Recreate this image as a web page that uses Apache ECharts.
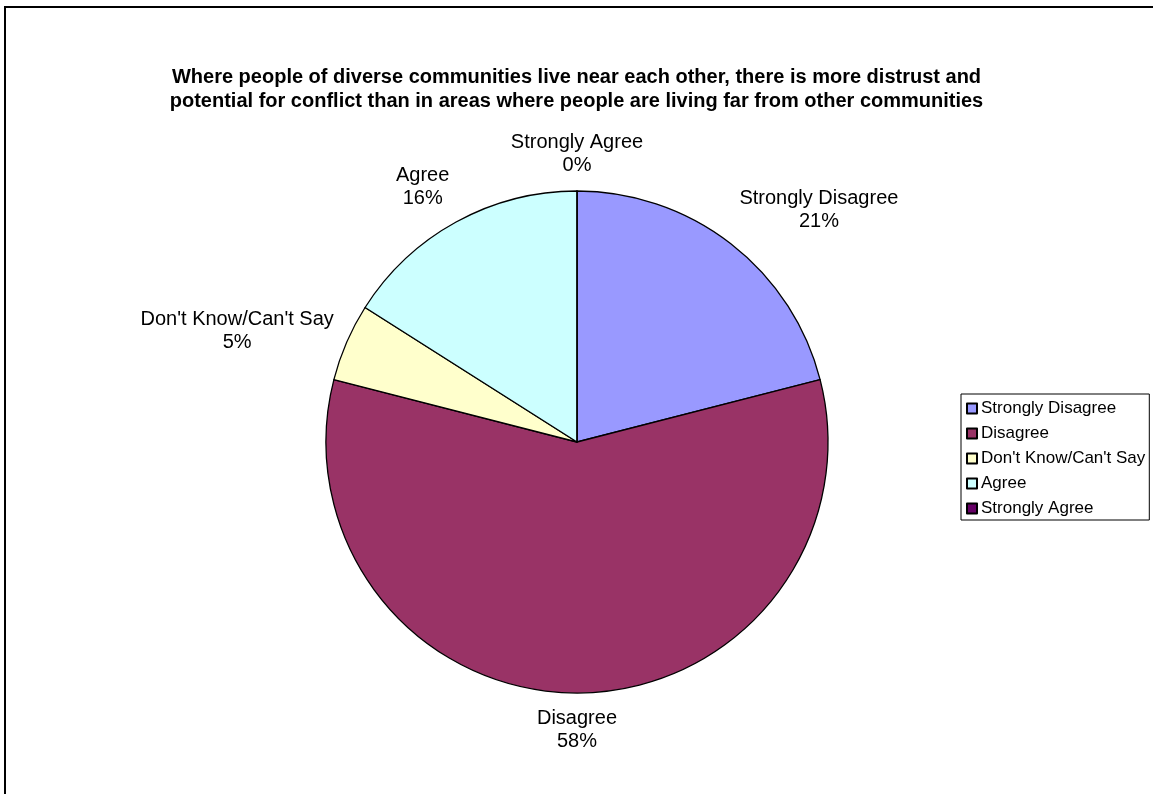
<!DOCTYPE html>
<html>
<head>
<meta charset="utf-8">
<title>Diverse communities survey</title>
<script src="https://cdn.jsdelivr.net/npm/echarts@6/dist/echarts.min.js"></script>
<style>
  html, body { margin: 0; padding: 0; background: #ffffff; }
  #chart { width: 1153px; height: 794px; }
</style>
</head>
<body>
<div id="chart"></div>
<script>
// Survey responses (percent of respondents)
const categories = ['Strongly Disagree', 'Disagree', "Don't Know/Can't Say", 'Agree', 'Strongly Agree'];
const shares = [21, 58, 5, 16, 0];
const sliceColors = ['#9999FF', '#993366', '#FFFFCC', '#CCFFFF', '#660066'];
const titleLines = [
  'Where people of diverse communities live near each other, there is more distrust and',
  'potential for conflict than in areas where people are living far from other communities'
];

const FONT = "'Liberation Sans', Arial, sans-serif";
const PIE_CENTER = [577, 442];
const PIE_RADIUS = 251;
const LABEL_GAP = 14;

const total = shares.reduce((a, b) => a + b, 0);

// mid angle of each slice, measured clockwise from 12 o'clock
function midAngle(idx) {
  let before = 0;
  for (let i = 0; i < idx; i++) before += shares[i];
  return ((before + shares[idx] / 2) / total) * Math.PI * 2;
}

function clamp(v) { return Math.max(-1, Math.min(1, v)); }

const chart = echarts.init(document.getElementById('chart'), null, { renderer: 'canvas' });

chart.setOption({
  backgroundColor: '#ffffff',
  animation: false,
  title: {
    text: titleLines.join('\n'),
    left: 'center',
    top: 60,
    textStyle: {
      fontFamily: FONT,
      fontSize: 20,
      fontWeight: 'bold',
      color: '#000000',
      lineHeight: 24
    }
  },
  legend: {
    orient: 'vertical',
    left: 961,
    top: 394,
    data: categories,
    icon: 'rect',
    itemWidth: 10,
    itemHeight: 10,
    itemGap: 8,
    padding: [6, 4, 3, 5],
    borderColor: '#000000',
    borderWidth: 1,
    borderRadius: 0,
    selectedMode: false,
    textStyle: {
      fontFamily: FONT,
      fontSize: 17,
      lineHeight: 17,
      color: '#000000',
      padding: [0, 0, 0, -1]
    }
  },
  graphic: [{
    type: 'rect',
    shape: { x: 5, y: 7, width: 1300, height: 900 },
    style: { fill: 'none', stroke: '#000000', lineWidth: 2 },
    silent: true,
    z: 100
  }],
  series: [{
    type: 'pie',
    center: PIE_CENTER,
    radius: PIE_RADIUS,
    startAngle: 90,
    clockwise: true,
    avoidLabelOverlap: false,
    data: categories.map((name, i) => ({
      name: name,
      value: shares[i],
      itemStyle: { color: sliceColors[i] }
    })),
    itemStyle: {
      borderColor: '#000000',
      borderWidth: 1.3
    },
    emphasis: { disabled: true },
    label: {
      show: true,
      position: 'outside',
      fontFamily: FONT,
      fontSize: 20,
      lineHeight: 23,
      color: '#000000',
      align: 'center',
      formatter: p => p.name + '\n' + Math.round(p.percent) + '%'
    },
    labelLine: { show: false },
    // each label box sits just outside the rim, pushed away along the slice's mid angle
    labelLayout: function (params) {
      const a = midAngle(params.dataIndex);
      const ux = Math.sin(a);
      const uy = -Math.cos(a);
      const d = PIE_RADIUS + LABEL_GAP;
      const px = PIE_CENTER[0] + d * ux;
      const py = PIE_CENTER[1] + d * uy;
      const w = params.labelRect.width;
      const h = params.labelRect.height;
      const fx = clamp(3 * ux);
      const fy = Math.sign(uy) * Math.max(0, Math.min(1, (Math.abs(uy) - 0.3) / 0.4));
      return {
        x: px + (w / 2) * fx,
        y: py + (h / 2) * fy,
        align: 'center',
        verticalAlign: 'middle'
      };
    }
  }]
});
</script>
</body>
</html>
